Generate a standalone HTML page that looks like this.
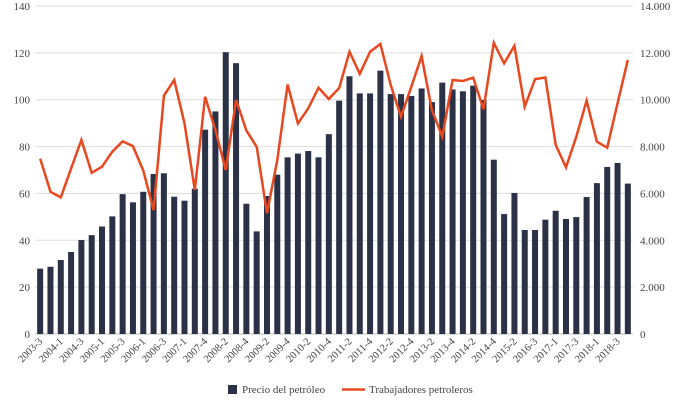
<!DOCTYPE html>
<html><head><meta charset="utf-8"><style>
body{margin:0;background:#fff;}
svg text{font-family:"Liberation Serif",serif;fill:#444;}
</style></head><body>
<svg id="c" width="679" height="405"></svg>
<script>
const categories=["2003-3","2003-4","2004-1","2004-2","2004-3","2004-4","2005-1","2005-2","2005-3","2005-4","2006-1","2006-2","2006-3","2006-4","2007-1","2007-3","2007-4","2008-1","2008-2","2008-3","2008-4","2009-1","2009-2","2009-3","2009-4","2010-1","2010-2","2010-3","2010-4","2011-1","2011-2","2011-3","2011-4","2012-1","2012-2","2012-3","2012-4","2013-1","2013-2","2013-3","2013-4","2014-1","2014-2","2014-3","2014-4","2015-1","2015-2","2016-2","2016-3","2016-4","2017-1","2017-2","2017-3","2017-4","2018-1","2018-2","2018-3","2018-4"];
const oilPrice=[27.9,28.7,31.6,35,40.1,42.2,45.9,50.2,59.7,56.2,60.7,68.3,68.6,58.6,56.9,62,87.2,95,120.3,115.6,55.6,43.8,58.9,68,75.4,77,78.1,75.4,85.3,99.6,110,102.7,102.7,112.4,102.4,102.4,101.6,104.8,99,107.3,104.4,103.6,106,99.9,74.4,51.2,60.2,44.4,44.4,48.8,52.6,49.1,49.9,58.5,64.4,71.3,73,64.2];
const workers=[7480,6070,5830,7070,8280,6880,7140,7780,8220,8020,6970,5290,10170,10840,8990,6150,10130,8710,7000,9990,8680,7990,5150,7430,10650,8990,9630,10510,10030,10500,12050,11100,12050,12380,10630,9270,10550,11860,9560,8420,10840,10800,10940,9590,12430,11550,12300,9700,10880,10950,8070,7110,8420,9960,8210,7950,9840,11690];
const leftTicks=[0,20,40,60,80,100,120,140];
const rightTicks=["0","2.000","4.000","6.000","8.000","10.000","12.000","14.000"];
const NS="http://www.w3.org/2000/svg";
const svg=document.getElementById('c');
const X0=35,X1=633,Y0=334,Y1=6;
const band=(X1-X0)/categories.length;
const xc=i=>X0+(i+0.5)*band;
const yL=v=>Y0-(v/140)*(Y0-Y1);
const yR=v=>Y0-(v/14000)*(Y0-Y1);
function mk(t,a){const e=document.createElementNS(NS,t);for(const k in a)e.setAttribute(k,a[k]);svg.appendChild(e);return e;}
leftTicks.forEach((t,i)=>{
  const g=mk('line',{x1:X0,x2:X1,y1:yL(t),y2:yL(t),stroke:t===0?'#bbb':'#ddd','stroke-width':1});
  
  
  const l=mk('text',{x:30,y:yL(t)+4,'text-anchor':'end','font-size':11});
  l.textContent=t;
  
  
  const r=mk('text',{x:640,y:yL(t)+4,'font-size':11});
  r.textContent=rightTicks[i];
  
  
});
oilPrice.forEach((v,i)=>{
  const b=mk('rect',{x:xc(i)-3,y:yL(v),width:6,height:Y0-yL(v),fill:'#2b3147'});
  
  
});
const pts=workers.map((v,i)=>xc(i).toFixed(1)+','+yR(v).toFixed(1)).join(' ');
const pl=mk('polyline',{points:pts,fill:'none',stroke:'#e8481f','stroke-width':2.5,'stroke-linejoin':'miter'});


categories.forEach((c,i)=>{
  if(i%2)return;
  const x=xc(i)+3,y=Y0+8;
  const t=mk('text',{x:x,y:y,'text-anchor':'end','font-size':10.5,transform:`rotate(-45 ${x} ${y})`});
  t.textContent=c;
  
  
});
const ls=mk('rect',{x:228,y:385,width:9,height:9,fill:'#2b3147'});


const lt=mk('text',{x:242,y:393,'font-size':11});
lt.textContent='Precio del petróleo';


const ll=mk('line',{x1:342,x2:365,y1:389.5,y2:389.5,stroke:'#e8481f','stroke-width':2.5});


const lt2=mk('text',{x:369,y:393,'font-size':11});
lt2.textContent='Trabajadores petroleros';


</script>
</body></html>
